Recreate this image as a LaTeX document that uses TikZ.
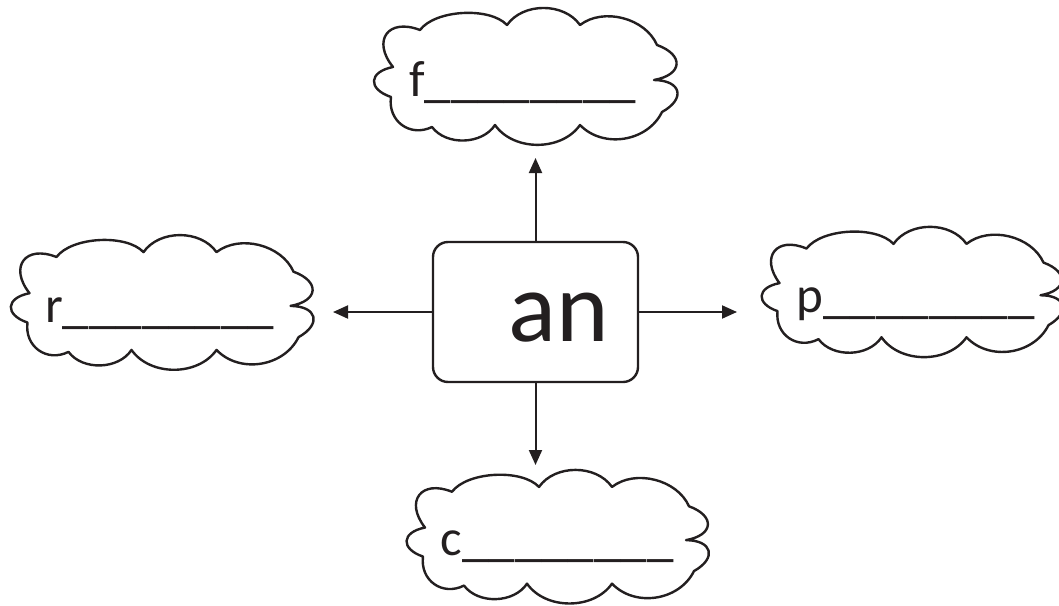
\documentclass[tikz,border=0pt]{standalone}
\usepackage{fontspec}
\setmainfont{Carlito}
\usetikzlibrary{calc,arrows.meta}
\definecolor{ink}{RGB}{35,31,32}
\tikzset{
  cloudline/.style={draw=ink, line width=2.4pt, line join=round},
  link/.style={draw=ink, line width=2pt, -{Triangle[width=13pt,length=15pt]}},
  centerbox/.style={draw=ink, line width=2.4pt, rounded corners=15pt,
    minimum width=205pt, minimum height=140pt, inner sep=0pt},
  blank/.style={font=\fontsize{51}{60}\selectfont, text=ink, inner sep=0pt, anchor=base west},
  bigword/.style={font=\fontsize{100}{120}\selectfont, text=ink, inner sep=0pt, anchor=base west},
  bmp/.style 2 args={to path={.. controls ($(\tikztostart)!#2!#1:(\tikztotarget)$)
      and ($(\tikztotarget)!#2!-#1:(\tikztostart)$) .. (\tikztotarget)}},
}
\newcommand\lines{{\fontsize{53}{60}\selectfont\_\_\_\_\_\_\_\_}}
\newcommand\cloudat[4]{%
  \begin{scope}[shift={(#2,#3)}, yscale=#4]
    \coordinate (#1-1) at (47,22);
    \coordinate (#1-2) at (134,17);
    \coordinate (#1-3) at (207,17);
    \coordinate (#1-4) at (284,37);
    \coordinate (#1-5) at (281,72);
    \coordinate (#1-6) at (289,104);
    \coordinate (#1-7) at (207,117);
    \coordinate (#1-8) at (122,117);
    \coordinate (#1-9) at (59,119);
    \coordinate (#1-10) at (18,89);
    \coordinate (#1-11) at (20,59);
  \end{scope}
  \draw[cloudline] (#1-1) to[bmp={50}{0.29}] (#1-2) to[bmp={55}{0.38}] (#1-3)
    to[bmp={52}{0.37}] (#1-4) to[bmp={75}{0.83}] (#1-5) to[bmp={75}{0.83}] (#1-6)
    to[bmp={55}{0.40}] (#1-7) to[bmp={55}{0.38}] (#1-8) to[bmp={55}{0.375}] (#1-9)
    to[bmp={62}{0.48}] (#1-10) to[bmp={75}{0.83}] (#1-11) to[bmp={75}{0.745}] (#1-1) -- cycle;
}
\begin{document}
\begin{tikzpicture}[x=1pt,y=-1pt]
  \useasboundingbox (0,0) rectangle (1059,605);
  \clip (0,0) rectangle (1059,605);
  % clouds
  \cloudat{T}{373}{8}{1}
  \cloudat{L}{9.5}{235.5}{0.978}
  \cloudat{R}{759.5}{228}{0.934}
  \cloudat{B}{405}{470.5}{0.967}
  % cloud texts
  \node[blank] (ft) at (409,96) {f\lines};
  \node[blank] (rt) at (45,322) {r\lines};
  \node[blank] (pt) at (796.5,312) {p\lines};
  \node[blank] (ct) at (440.5,555) {c\lines};
  % center
  \node[centerbox] (box) at (535.5,312) {};
  \node[bigword] (an) at (508,341) {an};
  % arrow ends
  \coordinate (upend) at (535.5,158);
  \coordinate (downend) at (535.5,465);
  \coordinate (leftend) at (333,312);
  \coordinate (rightend) at (737,312);
  \draw[link] (box.north) -- (upend);
  \draw[link] (box.south) -- (downend);
  \draw[link] (box.west) -- (leftend);
  \draw[link] (box.east) -- (rightend);
\end{tikzpicture}
\end{document}
